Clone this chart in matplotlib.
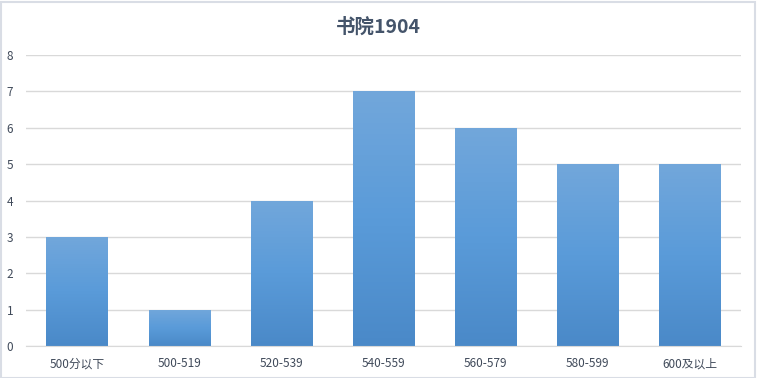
import numpy as np
import matplotlib
matplotlib.use('Agg')
import matplotlib.pyplot as plt
from matplotlib.colors import LinearSegmentedColormap
from matplotlib.patches import Rectangle

plt.rcParams['font.family'] = ['Noto Sans CJK SC', 'DejaVu Sans']

title = '书院1904'
categories = ['500分以下', '500-519', '520-539', '540-559', '560-579', '580-599', '600及以上']
counts = [3, 1, 4, 7, 6, 5, 5]

fig = plt.figure(figsize=(7.57, 3.78), dpi=100)
ax = fig.add_axes([26 / 757, 32 / 378, 715 / 757, 291 / 378])

x = np.arange(len(categories))
bars = ax.bar(x, counts, width=0.6, color='none', zorder=2)

# vertical gradient inside each bar (light top, darker bottom)
cmap = LinearSegmentedColormap.from_list('grad', ['#4a89c8', '#5a9bd9', '#72a7db'])
grad = np.linspace(0, 1, 256).reshape(-1, 1)
for b in bars:
    x0, y0 = b.get_x(), b.get_y()
    w, h = b.get_width(), b.get_height()
    im = ax.imshow(grad, cmap=cmap, origin='lower', aspect='auto',
                   extent=[x0, x0 + w, y0, y0 + h], zorder=2)
    im.set_clip_path(b)

ax.set_xlim(-0.5, len(categories) - 0.5)
ax.set_ylim(0, 8)
ax.set_yticks(range(0, 9))
ax.set_xticks(x)
ax.set_xticklabels(categories)
ax.grid(axis='y', color='#d9d9d9', linewidth=1, zorder=0)
ax.set_axisbelow(True)
for s in ['top', 'right', 'left']:
    ax.spines[s].set_visible(False)
ax.spines['bottom'].set_color('#d9d9d9')
ax.tick_params(length=0, labelsize=8.5, colors='#404a5a', pad=8)
ax.tick_params(axis='y', pad=14)
for lab in ax.get_yticklabels():
    lab.set_horizontalalignment('left')

fig.text(0.5, 1 - 27 / 378, title, ha='center', va='center', fontsize=14,
         fontweight='bold', color='#44546a')

fig.patches.append(Rectangle((0.001, 0.001), 0.996, 0.995, transform=fig.transFigure,
                             fill=False, edgecolor='#d9dde5', linewidth=1.5))

fig.savefig('out.png', dpi=100)
